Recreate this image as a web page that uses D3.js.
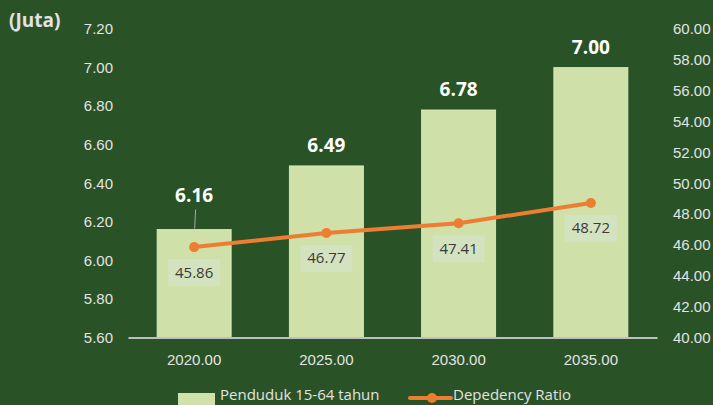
<!DOCTYPE html>
<html>
<head>
<meta charset="utf-8">
<script src="https://cdn.jsdelivr.net/npm/d3@7"></script>
<style>
  html, body { margin: 0; padding: 0; background: #2a5227; }
  svg { display: block; font-family: "Open Sans", "Noto Sans", sans-serif; }
</style>
</head>
<body>
<svg id="chart" width="713" height="405"></svg>
<script>
// data
const years = ["2020.00", "2025.00", "2030.00", "2035.00"];
const penduduk = [6.16, 6.49, 6.78, 7.00];
const depRatio = [45.86, 46.77, 47.41, 48.72];
const leftTicks = [5.6, 5.8, 6.0, 6.2, 6.4, 6.6, 6.8, 7.0, 7.2];
const rightTicks = [40, 42, 44, 46, 48, 50, 52, 54, 56, 58, 60];

const W = 713, H = 405;
const m = { left: 128, right: 56, top: 29, bottom: 67.5 };

const svg = d3.select("#chart");

// skala
const x = d3.scaleBand().domain(years).range([m.left, W - m.right]).paddingInner(0.44).paddingOuter(0.22);
const yL = d3.scaleLinear().domain([5.6, 7.2]).range([H - m.bottom, m.top]);
const yR = d3.scaleLinear().domain([40, 60]).range([H - m.bottom, m.top]);

const tickColor = "#e3e3e3";
const fs = "15px";

// sumbu kiri
const axL = svg.append("g")
    .attr("transform", `translate(${m.left - 15},0)`)
    .call(d3.axisLeft(yL).tickValues(leftTicks).tickFormat(d3.format(".2f")).tickSize(0));
axL.select(".domain").remove();
axL.selectAll("text").attr("fill", tickColor).style("font-size", fs).attr("x", 0);

// sumbu kanan
const axR = svg.append("g")
    .attr("transform", `translate(${W - m.right + 16},0)`)
    .call(d3.axisRight(yR).tickValues(rightTicks).tickFormat(d3.format(".2f")).tickSize(0));
axR.select(".domain").remove();
axR.selectAll("text").attr("fill", tickColor).style("font-size", fs).attr("x", 0);

// batang
svg.append("g").selectAll("rect")
    .data(penduduk)
    .enter()
    .append("rect")
    .attr("x", (d, i) => x(years[i]))
    .attr("y", d => yL(d))
    .attr("width", x.bandwidth())
    .attr("height", d => yL(5.6) - yL(d))
    .attr("fill", "#cfe0a8")
    .attr("stroke", "#e2ecc9")
    .attr("stroke-width", 0.8);

// sumbu bawah
const axB = svg.append("g")
    .attr("transform", `translate(0,${H - m.bottom})`)
    .call(d3.axisBottom(x).tickSize(0));
axB.select(".domain").attr("stroke", "#bfbfbf").attr("stroke-width", 2);
axB.selectAll("text").attr("fill", tickColor).style("font-size", fs).attr("y", 27).attr("dy", 0);

// label batang
const barLabelLift = [28, 14, 14, 14];
svg.append("g").selectAll("text")
    .data(penduduk)
    .enter()
    .append("text")
    .attr("x", (d, i) => x(years[i]) + x.bandwidth() / 2)
    .attr("y", (d, i) => yL(d) - barLabelLift[i])
    .attr("text-anchor", "middle")
    .attr("fill", "#ffffff")
    .style("font-size", "19px")
    .style("font-weight", "bold")
    .text(d => d.toFixed(2));

// garis penunjuk untuk label pertama
svg.append("line")
    .attr("x1", x(years[0]) + x.bandwidth() / 2 + 1.5)
    .attr("x2", x(years[0]) + x.bandwidth() / 2 + 0.5)
    .attr("y1", yL(penduduk[0]) - 20)
    .attr("y2", yL(penduduk[0]) - 1)
    .attr("stroke", "#a6a6a6")
    .attr("stroke-width", 1);

// garis rasio
const line = d3.line()
    .x((d, i) => x(years[i]) + x.bandwidth() / 2)
    .y(d => yR(d));

svg.append("path")
    .datum(depRatio)
    .attr("d", line)
    .attr("fill", "none")
    .attr("stroke", "#ed7d31")
    .attr("stroke-width", 4)
    .attr("stroke-linecap", "round");

svg.append("g").selectAll("circle")
    .data(depRatio)
    .enter()
    .append("circle")
    .attr("cx", (d, i) => x(years[i]) + x.bandwidth() / 2)
    .attr("cy", d => yR(d))
    .attr("r", 5)
    .attr("fill", "#ed7d31");

// label rasio
const rl = svg.append("g").selectAll("g")
    .data(depRatio)
    .enter()
    .append("g")
    .attr("transform", (d, i) => `translate(${x(years[i]) + x.bandwidth() / 2},${yR(d) + 25})`);

rl.append("rect")
    .attr("x", -26)
    .attr("y", -13)
    .attr("width", 52)
    .attr("height", 27)
    .attr("fill", "#d3e2bf");

rl.append("text")
    .attr("text-anchor", "middle")
    .attr("dy", "0.36em")
    .attr("fill", "#3a3a3a")
    .style("font-size", fs)
    .text(d => d.toFixed(2));

// satuan
svg.append("text")
    .attr("x", 9)
    .attr("y", 27)
    .attr("fill", "#e3e3e3")
    .style("font-size", "19px")
    .style("font-weight", "bold")
    .text("(Juta)");

// legenda
const lg = svg.append("g");
lg.append("rect")
    .attr("x", 178).attr("y", 393)
    .attr("width", 37).attr("height", 12)
    .attr("fill", "#cfe0a8");
lg.append("text")
    .attr("x", 220).attr("y", 400)
    .attr("fill", tickColor)
    .style("font-size", fs)
    .text("Penduduk 15-64 tahun");
lg.append("line")
    .attr("x1", 410).attr("x2", 451)
    .attr("y1", 398).attr("y2", 398)
    .attr("stroke", "#ed7d31").attr("stroke-width", 4)
    .attr("stroke-linecap", "round");
lg.append("circle")
    .attr("cx", 432).attr("cy", 398).attr("r", 5)
    .attr("fill", "#ed7d31");
lg.append("text")
    .attr("x", 453).attr("y", 400)
    .attr("fill", tickColor)
    .style("font-size", fs)
    .text("Depedency Ratio");
</script>
</body>
</html>
